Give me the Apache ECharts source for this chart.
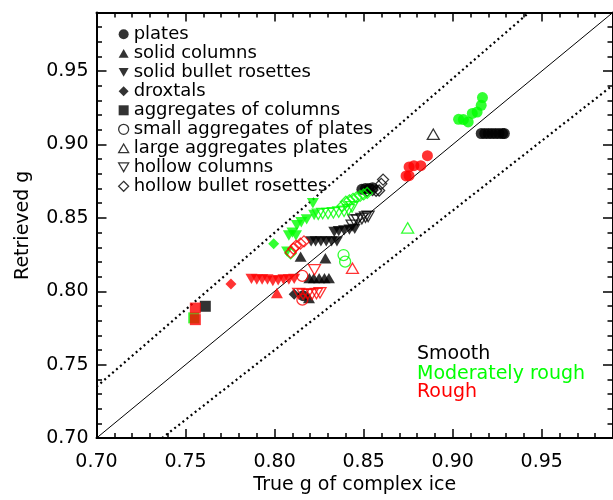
<!DOCTYPE html>
<html><head><meta charset="utf-8">
<script src="https://cdn.jsdelivr.net/npm/echarts@6/dist/echarts.min.js"></script>
<style>html,body{margin:0;padding:0;background:#fff}#c{width:613px;height:500px}</style>
</head><body><div id="c"></div>
<script>
// ---------- data ----------
const tickLabels = ['0.70','0.75','0.80','0.85','0.90','0.95'];
const shapeNames = ['plates','solid columns','solid bullet rosettes','droxtals','aggregates of columns',
  'small aggregates of plates','large aggregates plates','hollow columns','hollow bullet rosettes'];
const roughnessNames = ['Smooth','Moderately rough','Rough'];

// Smooth (black)
const smoothPlates = [[0.916,0.9075],[0.918,0.9075],[0.920,0.9075],[0.922,0.9075],[0.924,0.9075],[0.926,0.9075],[0.928,0.9075],[0.929,0.9075],
  [0.849,0.8695],[0.851,0.870],[0.853,0.870],[0.855,0.8705],[0.816,0.797]];
const smoothSolidColumns = [[0.8146,0.8236],[0.8285,0.8225],[0.8195,0.809],[0.822,0.809],[0.825,0.809],[0.828,0.809],[0.8305,0.809],[0.8193,0.7954]];
const smoothSolidRosettes = [[0.8205,0.834],[0.823,0.834],[0.826,0.834],[0.829,0.834],[0.832,0.834],[0.835,0.834],
  [0.8335,0.8405],[0.836,0.841],[0.839,0.8415],[0.842,0.842],[0.845,0.8425]];
const smoothDroxtals = [[0.811,0.798]];
const smoothAggColumns = [[0.7611,0.7898]];
const smoothSmallAggPlates = [];
const smoothLargeAggPlates = [[0.8891,0.907]];
const smoothHollowColumns = [[0.8435,0.845],[0.8445,0.8485],[0.8465,0.8485],[0.849,0.8495],[0.851,0.8505],[0.8525,0.851]];
const smoothHollowRosettes = [[0.852,0.8685],[0.855,0.869],[0.857,0.8685],[0.8587,0.8687],[0.8599,0.8732],[0.8609,0.8761]];

// Moderately rough (green)
const moderatePlates = [[0.9033,0.9172],[0.906,0.917],[0.9087,0.9154],[0.911,0.9212],[0.9137,0.9221],[0.916,0.9267],[0.9167,0.932]];
const moderateSolidColumns = [];
const moderateSolidRosettes = [[0.8215,0.860],[0.8222,0.852],[0.818,0.849],[0.815,0.847],[0.8125,0.845],[0.810,0.840],[0.808,0.838],[0.812,0.838],[0.807,0.827]];
const moderateDroxtals = [[0.7995,0.8324]];
const moderateAggColumns = [[0.7546,0.7819]];
const moderateSmallAggPlates = [[0.8387,0.8247],[0.8396,0.8202]];
const moderateLargeAggPlates = [[0.8747,0.8432]];
const moderateHollowColumns = [[0.8245,0.8525],[0.827,0.853],[0.830,0.853],[0.833,0.8535],[0.836,0.854],[0.839,0.8545],[0.8415,0.8555],[0.8435,0.8575]];
const moderateHollowRosettes = [[0.838,0.858],[0.840,0.861],[0.842,0.862],[0.844,0.863],[0.846,0.864],[0.848,0.865],[0.850,0.866],[0.852,0.867],[0.809,0.8258]];

// Rough (red)
const roughPlates = [[0.8858,0.8924],[0.8821,0.8856],[0.8782,0.8856],[0.8755,0.8847],[0.8755,0.8788],[0.8738,0.8786]];
const roughSolidColumns = [[0.8013,0.7988]];
const roughSolidRosettes = [[0.787,0.8085],[0.790,0.808],[0.793,0.808],[0.796,0.808],[0.799,0.807],[0.802,0.8075],[0.805,0.808],[0.808,0.808],[0.811,0.8085]];
const roughDroxtals = [[0.7755,0.8049]];
const roughAggColumns = [[0.7555,0.7886],[0.7555,0.7807]];
const roughSmallAggPlates = [[0.8156,0.8105],[0.8156,0.7943]];
const roughLargeAggPlates = [[0.8437,0.8157]];
const roughHollowColumns = [[0.8224,0.8146],[0.8135,0.7985],[0.816,0.798],[0.8185,0.798],[0.821,0.798],[0.8235,0.7985],[0.8255,0.799]];
const roughHollowRosettes = [[0.809,0.8265],[0.8105,0.829],[0.812,0.831],[0.8145,0.8325],[0.8165,0.834]];

// reference lines
const oneToOneLine = [[0.70,0.70],[0.99,0.99]];
const upperLine = [[0.70,0.735],[0.9429,0.99]];   // +5 %
const lowerLine = [[0.7368,0.70],[0.99,0.9405]];  // -5 %

// ---------- styling ----------
const FONT = 'DejaVu Sans';
const colors = ['#000000','#00ff00','#ff0000'];
const UP = 'path://M5,0L10,8.66L0,8.66Z';
const DOWN = 'path://M0,0L10,0L5,8.66Z';
const shapeStyle = [
  {symbol:'circle', size:11, filled:true},
  {symbol:UP, size:12, filled:true},
  {symbol:DOWN, size:12, filled:true},
  {symbol:'diamond', size:11, filled:true},
  {symbol:'rect', size:11, filled:true},
  {symbol:'circle', size:11, filled:false},
  {symbol:UP, size:12, filled:false},
  {symbol:DOWN, size:12, filled:false},
  {symbol:'diamond', size:11, filled:false}
];
const groups = [
  [smoothPlates,smoothSolidColumns,smoothSolidRosettes,smoothDroxtals,smoothAggColumns,smoothSmallAggPlates,smoothLargeAggPlates,smoothHollowColumns,smoothHollowRosettes],
  [moderatePlates,moderateSolidColumns,moderateSolidRosettes,moderateDroxtals,moderateAggColumns,moderateSmallAggPlates,moderateLargeAggPlates,moderateHollowColumns,moderateHollowRosettes],
  [roughPlates,roughSolidColumns,roughSolidRosettes,roughDroxtals,roughAggColumns,roughSmallAggPlates,roughLargeAggPlates,roughHollowColumns,roughHollowRosettes]
];
function itemStyleFor(st, color) {
  return st.filled ? {color: color, borderWidth: 0}
                   : {color: 'rgba(0,0,0,0)', borderColor: color, borderWidth: 1.3};
}

const series = [];
[[oneToOneLine,'solid',1],[upperLine,[2,3.2],2.2],[lowerLine,[2,3.2],2.2]].forEach(([d,t,w],i)=>{
  series.push({type:'line', name:'line'+i, data:d, symbol:'none', silent:true, z:1, clip:true,
    lineStyle:{color:'#000', width:w, type:t}});
});
groups.forEach((g,ri)=>{
  g.forEach((d,si)=>{
    const st = shapeStyle[si];
    series.push({type:'scatter', name: shapeNames[si]+' / '+roughnessNames[ri], data:d,
      symbol: st.symbol, symbolSize: st.size, symbolKeepAspect:true, z:3+ri,
      itemStyle: itemStyleFor(st, colors[ri]), emphasis:{disabled:true}});
  });
});
// legend entries (black shapes)
shapeNames.forEach((n,si)=>{
  const st = shapeStyle[si];
  series.push({type:'scatter', name:n, data:[], symbol:st.symbol, symbolKeepAspect:true,
    itemStyle:itemStyleFor(st,'#000')});
});

const RANGE = {min:0.70, max:0.99};
function fmt(v){ const s = v.toFixed(2); return tickLabels.includes(s) ? s : ''; }
function xAx(pos, minor, main) {
  return Object.assign({type:'value', position:pos, gridIndex:0}, RANGE, {
    interval: minor ? 0.01 : 0.05,
    axisLine:{show:!minor, onZero:false, lineStyle:{color:'#000', width:2}},
    axisTick:{show:true, inside:true, length: minor ? 5 : 9, lineStyle:{color:'#000', width:1.5}},
    axisLabel:{show:!!main, formatter:fmt, margin:14, color:'#000', fontFamily:FONT, fontSize:19, showMaxLabel:false},
    splitLine:{show:false},
    name: main ? 'True g of complex ice' : '', nameLocation:'middle', nameGap:36,
    nameTextStyle:{color:'#000', fontFamily:FONT, fontSize:19}
  });
}
function yAx(pos, minor, main) {
  return Object.assign({type:'value', position:pos, gridIndex:0}, RANGE, {
    interval: minor ? 0.01 : 0.05,
    axisLine:{show:!minor, onZero:false, lineStyle:{color:'#000', width:2}},
    axisTick:{show:true, inside:true, length: minor ? 5.5 : 10, lineStyle:{color:'#000', width:1.5}},
    axisLabel:{show:!!main, formatter:fmt, margin:8, color:'#000', fontFamily:FONT, fontSize:19, showMaxLabel:false},
    splitLine:{show:false},
    name: main ? 'Retrieved g' : '', nameLocation:'middle', nameGap:64,
    nameTextStyle:{color:'#000', fontFamily:FONT, fontSize:19}
  });
}

const chart = echarts.init(document.getElementById('c'), null, {renderer:'canvas'});
chart.setOption({
  backgroundColor:'#fff',
  animation:false,
  grid:{left:96.5, right:-6.7, top:12.4, bottom:59},
  xAxis:[xAx('bottom',false,true), xAx('top',false,false), xAx('bottom',true,false), xAx('top',true,false)],
  yAxis:[yAx('left',false,true), yAx('right',false,false), yAx('left',true,false), yAx('right',true,false)],
  legend:{orient:'vertical', left:113, top:20.3, itemWidth:10, itemHeight:10, itemGap:1, selectedMode:false,
    textStyle:{fontFamily:FONT, fontSize:18, color:'#000'},
    data: shapeNames.map((n,si)=>({name:n, icon:shapeStyle[si].symbol, itemStyle:itemStyleFor(shapeStyle[si],'#000')}))},
  graphic: roughnessNames.map((t,i)=>({type:'text', x:417, y:[353.7,373.7,392.5][i], z:10,
    style:{text:t, fill:colors[i], font:'19px "DejaVu Sans"', verticalAlign:'middle', align:'left'}})),
  series: series
});
</script></body></html>
